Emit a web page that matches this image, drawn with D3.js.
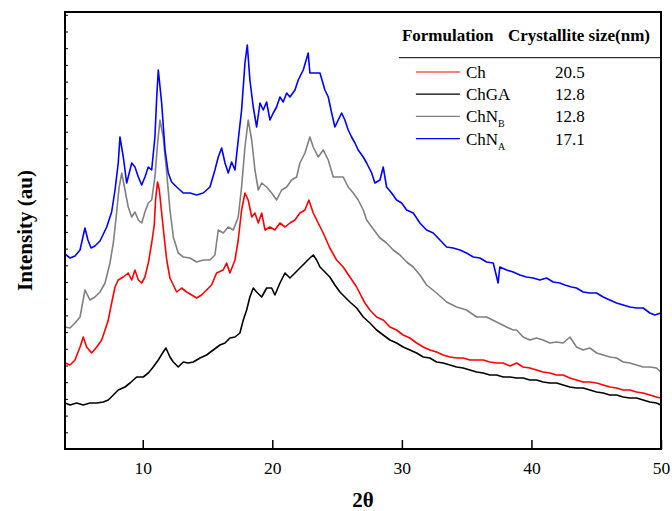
<!DOCTYPE html>
<html>
<head>
<meta charset="utf-8">
<script src="https://cdn.jsdelivr.net/npm/d3@7"></script>
<style>
  body { margin: 0; background: #fff; }
  svg text { font-family: "Liberation Serif", "Times New Roman", serif; fill: #000; }
  .x_axis text { font-size: 17.5px; }
  .axis-label { font-size: 21px; font-weight: bold; }
  .legend-head { font-size: 17px; font-weight: bold; }
  .legend-text { font-size: 17px; }
</style>
</head>
<body>
<svg id="chart"></svg>
<script>
// XRD patterns, [2theta, intensity (au)]
const chnaData = [
  [4.00,195],[4.39,191],[4.77,193],[5.16,199],[5.54,221],[5.77,209],[6.01,201],[6.31,203],[6.70,208],
  [7.22,222],[7.60,237],[7.86,259],[8.11,286],[8.24,312],[8.50,292],[8.76,266],[8.88,272],[9.15,286],
  [9.40,282],[9.66,272],[9.92,264],[10.17,272],[10.43,282],[10.69,279],[10.94,312],[11.08,352],[11.20,379],
  [11.46,346],[11.72,299],[11.97,276],[12.23,267],[12.62,262],[13.13,256],[13.65,256],[14.16,254],[14.67,256],
  [15.19,262],[15.57,279],[15.83,292],[16.09,301],[16.35,286],[16.60,276],[16.86,287],[17.12,279],[17.37,309],
  [17.63,339],[17.89,386],[18.07,404],[18.27,369],[18.53,342],[18.79,322],[19.05,346],[19.30,339],[19.56,347],
  [19.82,329],[20.07,336],[20.33,342],[20.59,352],[20.84,347],[21.11,356],[21.36,352],[21.75,359],[22.00,369],
  [22.39,379],[22.77,396],[22.90,376],[23.29,376],[23.68,376],[24.06,359],[24.32,352],[24.58,336],[24.83,322],
  [25.09,329],[25.35,336],[25.60,329],[25.86,319],[26.12,312],[26.38,306],[26.63,299],[27.02,292],[27.28,286],
  [27.67,276],[27.92,266],[28.31,269],[28.56,282],[28.82,262],[29.21,256],[29.59,249],[29.98,246],[30.37,239],
  [30.88,236],[31.39,226],[31.91,219],[32.42,216],[32.94,209],[33.45,202],[33.96,201],[34.48,199],[34.99,196],
  [35.51,192],[36.02,191],[36.54,187],[37.05,186],[37.43,166],[37.56,182],[38.08,179],[38.59,177],[39.11,174],
  [39.62,172],[40.13,171],[40.65,169],[41.17,171],[41.68,167],[42.19,166],[42.58,164],[43.10,162],[43.48,161],
  [43.99,157],[44.51,156],[45.03,156],[45.54,152],[46.05,149],[46.57,146],[47.08,144],[47.60,142],[48.11,141],
  [48.62,141],[49.14,136],[49.52,134],[49.99,136]
]

const chnbData = [
  [4.00,122],[4.39,121],[4.77,126],[5.16,132],[5.54,159],[5.93,149],[6.31,152],[6.70,157],[7.09,166],
  [7.47,186],[7.73,206],[7.99,237],[8.17,261],[8.38,276],[8.63,259],[8.88,242],[9.15,232],[9.40,237],
  [9.66,229],[9.92,226],[10.17,237],[10.43,246],[10.69,249],[10.94,272],[11.15,306],[11.33,329],[11.58,312],
  [11.85,276],[12.10,239],[12.36,212],[12.74,196],[13.13,192],[13.65,191],[14.16,187],[14.67,189],[15.19,189],
  [15.57,194],[15.83,219],[16.21,216],[16.60,222],[16.99,219],[17.37,232],[17.63,262],[17.89,302],[18.14,329],
  [18.41,309],[18.66,279],[18.92,259],[19.18,266],[19.56,262],[19.95,256],[20.33,249],[20.72,259],[21.11,262],
  [21.49,269],[21.88,272],[22.13,286],[22.52,296],[22.90,312],[23.16,302],[23.54,292],[23.93,299],[24.32,289],
  [24.70,272],[25.09,272],[25.47,272],[25.86,262],[26.25,256],[26.63,249],[27.02,239],[27.28,229],[27.79,220],
  [28.31,211],[28.82,206],[29.33,199],[29.85,194],[30.37,187],[30.88,182],[31.39,174],[31.91,164],[32.68,156],
  [33.45,147],[34.22,142],[34.99,139],[35.77,132],[36.54,132],[37.31,127],[38.08,122],[38.59,119],[38.85,119],
  [39.36,112],[39.88,109],[40.39,111],[40.90,109],[41.42,106],[41.94,107],[42.45,106],[42.97,112],[43.48,102],
  [43.99,99],[44.51,101],[45.03,96],[45.54,94],[46.05,92],[46.57,91],[47.08,87],[47.60,86],[48.11,84],
  [48.62,82],[49.14,82],[49.65,81],[49.99,77]
]

const chData = [
  [4.00,86],[4.39,84],[4.77,89],[5.16,102],[5.41,112],[5.67,102],[6.06,96],[6.45,102],[6.83,109],[7.09,119],
  [7.34,129],[7.60,146],[7.86,162],[8.11,169],[8.50,172],[8.88,176],[9.15,169],[9.40,179],[9.66,169],[9.92,166],
  [10.17,172],[10.43,186],[10.69,206],[10.89,224],[10.99,249],[11.14,267],[11.28,259],[11.46,236],[11.68,209],
  [11.85,189],[12.10,171],[12.36,164],[12.62,157],[13.00,161],[13.39,157],[13.78,154],[14.16,151],[14.54,154],
  [14.93,159],[15.31,164],[15.57,172],[15.70,176],[16.21,179],[16.47,186],[16.73,176],[17.12,189],[17.37,209],
  [17.63,239],[17.89,256],[18.14,249],[18.41,232],[18.66,236],[18.92,226],[19.18,236],[19.44,219],[19.82,222],
  [20.20,219],[20.59,226],[20.98,222],[21.36,226],[21.75,229],[22.13,236],[22.52,239],[22.82,249],[23.16,236],
  [23.54,226],[23.93,216],[24.44,201],[24.96,189],[25.47,182],[25.99,172],[26.51,162],[26.90,152],[27.15,146],
  [27.53,139],[28.05,132],[28.56,129],[29.08,122],[29.59,119],[30.10,114],[30.62,111],[31.14,106],[31.65,102],
  [32.16,99],[32.68,97],[33.19,94],[33.71,92],[34.22,91],[34.73,91],[35.25,89],[35.77,89],[36.28,89],[36.79,87],
  [37.31,86],[37.82,86],[38.34,83],[38.85,86],[39.36,82],[39.88,81],[40.39,79],[40.90,77],[41.42,76],[41.94,74],
  [42.45,74],[42.97,71],[43.48,69],[43.99,67],[44.51,67],[45.03,66],[45.54,64],[46.05,62],[46.57,61],[47.08,59],
  [47.60,59],[48.11,57],[48.62,56],[49.14,54],[49.65,52],[49.99,51]
]

const chgaData = [
  [4.00,46],[4.39,44],[4.90,46],[5.41,44],[5.93,46],[6.45,46],[6.96,47],[7.34,49],[7.73,54],[8.11,59],
  [8.63,62],[9.02,66],[9.53,72],[10.04,72],[10.43,76],[10.81,82],[11.20,89],[11.58,97],[11.79,101],[12.10,92],
  [12.36,87],[12.74,82],[13.13,87],[13.51,86],[13.90,87],[14.42,91],[14.93,94],[15.44,99],[15.96,104],[16.35,106],
  [16.73,111],[17.12,112],[17.50,116],[17.76,129],[18.02,139],[18.27,152],[18.53,161],[18.79,157],[19.18,152],
  [19.56,161],[19.95,161],[20.20,154],[20.59,166],[20.98,176],[21.36,171],[21.75,176],[22.13,181],[22.52,186],
  [22.90,191],[23.16,194],[23.42,189],[23.68,182],[24.06,177],[24.44,172],[24.83,164],[25.22,157],[25.60,152],
  [25.99,147],[26.51,141],[27.02,132],[27.53,126],[28.05,119],[28.56,114],[29.08,109],[29.59,106],[30.10,102],
  [30.62,99],[31.14,96],[31.65,92],[32.16,91],[32.68,87],[33.19,86],[33.71,84],[34.22,82],[34.73,81],[35.25,79],
  [35.77,77],[36.28,76],[36.79,74],[37.31,74],[37.82,72],[38.34,72],[38.85,71],[39.36,71],[39.88,69],[40.39,69],
  [40.90,67],[41.42,66],[41.94,66],[42.45,64],[42.97,62],[43.48,61],[43.99,61],[44.51,59],[45.03,57],[45.54,56],
  [46.05,54],[46.57,54],[47.08,52],[47.60,51],[48.11,51],[48.62,49],[49.14,47],[49.65,46],[49.99,44]
]

const xTicks = [10, 20, 30, 40, 50]

// legend table
const formulations = ['Ch', 'ChGA', 'ChN', 'ChN']
const subscripts = ['', '', 'B', 'A']
const crystalliteSizes = ['20.5', '12.8', '12.8', '17.1']
const seriesColors = ['#ff0000', '#000000', '#808080', '#0000ff']

const config = {
  containerWidth: 672,
  containerHeight: 511,
  margin: {top: 12, right: 11, bottom: 62, left: 65}
}

const width = config.containerWidth - config.margin.left - config.margin.right
const height = config.containerHeight - config.margin.top - config.margin.bottom

const svg = d3.select('#chart')
  .attr('width', config.containerWidth)
  .attr('height', config.containerHeight)

const chart = svg.append('g')
  .attr('transform', `translate(${config.margin.left}, ${config.margin.top})`)

const xScale = d3.scaleLinear().domain([4, 50]).range([0, width])
const yScale = d3.scaleLinear().domain([0, 437]).range([height, 0])

// x axis, ticks pointing inward
const xAxis = d3.axisBottom(xScale)
  .tickValues(xTicks)
  .tickSizeInner(-9)
  .tickSizeOuter(0)
  .tickPadding(13)
  .tickFormat(d3.format('d'))

const xAxisG = chart.append('g')
  .attr('class', 'x_axis')
  .attr('transform', `translate(0, ${height})`)
  .call(xAxis)
xAxisG.select('.domain').remove()
xAxisG.selectAll('.tick line').attr('stroke', '#000').attr('stroke-width', 1.5)

// y axis: small unlabelled ticks only
const yAxis = d3.axisLeft(yScale)
  .tickValues(d3.range(16.7, 437, 16.7))
  .tickSizeInner(-3)
  .tickSizeOuter(0)
  .tickFormat('')

const yAxisG = chart.append('g')
  .attr('class', 'y_axis')
  .call(yAxis)
yAxisG.select('.domain').remove()
yAxisG.selectAll('.tick line').attr('stroke', '#000').attr('stroke-width', 1)

// lines
const line = d3.line()
  .x(d => xScale(d[0]))
  .y(d => yScale(d[1]))

const series = [chData, chgaData, chnbData, chnaData]

chart.append('g')
  .selectAll('path')
  .data(series)
  .join('path')
  .attr('d', d => line(d))
  .attr('fill', 'none')
  .attr('stroke', (d, i) => seriesColors[i])
  .attr('stroke-width', 1.6)
  .attr('stroke-linejoin', 'round')

// frame
chart.append('rect')
  .attr('width', width)
  .attr('height', height)
  .attr('fill', 'none')
  .attr('stroke', '#000')
  .attr('stroke-width', 2)

// axis titles
chart.append('text')
  .attr('class', 'axis-label')
  .attr('x', width / 2)
  .attr('y', height + 58)
  .attr('text-anchor', 'middle')
  .text('2θ')

chart.append('text')
  .attr('class', 'axis-label')
  .attr('transform', `translate(-33, ${height / 2}) rotate(-90)`)
  .attr('text-anchor', 'middle')
  .text('Intensity (au)')

// legend table
const legendX = xScale(29.77)
const legend = chart.append('g')
  .attr('transform', `translate(${legendX}, 0)`)

legend.append('text')
  .attr('class', 'legend-head')
  .attr('x', 3)
  .attr('y', 29)
  .text('Formulation')

legend.append('text')
  .attr('class', 'legend-head')
  .attr('x', 109)
  .attr('y', 29)
  .text('Crystallite size(nm)')

legend.append('line')
  .attr('x1', 0)
  .attr('x2', width - legendX)
  .attr('y1', 45.7)
  .attr('y2', 45.7)
  .attr('stroke', '#000')
  .attr('stroke-width', 1)

const rows = legend.selectAll('.legend-row')
  .data(formulations)
  .join('g')
  .attr('class', 'legend-row')
  .attr('transform', (d, i) => `translate(0, ${66 + i * 22.2})`)

rows.append('line')
  .attr('x1', 17)
  .attr('x2', 61)
  .attr('y1', -6)
  .attr('y2', -6)
  .attr('stroke', (d, i) => seriesColors[i])
  .attr('stroke-width', 1.2)

rows.each(function (d, i) {
  const label = d3.select(this).append('text')
    .attr('class', 'legend-text')
    .attr('x', 67)
    .attr('y', 0)
    .text(d)
  if (subscripts[i] !== '') {
    label.append('tspan')
      .attr('dy', 5)
      .attr('font-size', '10px')
      .text(subscripts[i])
  }
})

rows.append('text')
  .attr('class', 'legend-text')
  .attr('x', 156)
  .attr('y', 0)
  .text((d, i) => crystalliteSizes[i])
</script>
</body>
</html>
